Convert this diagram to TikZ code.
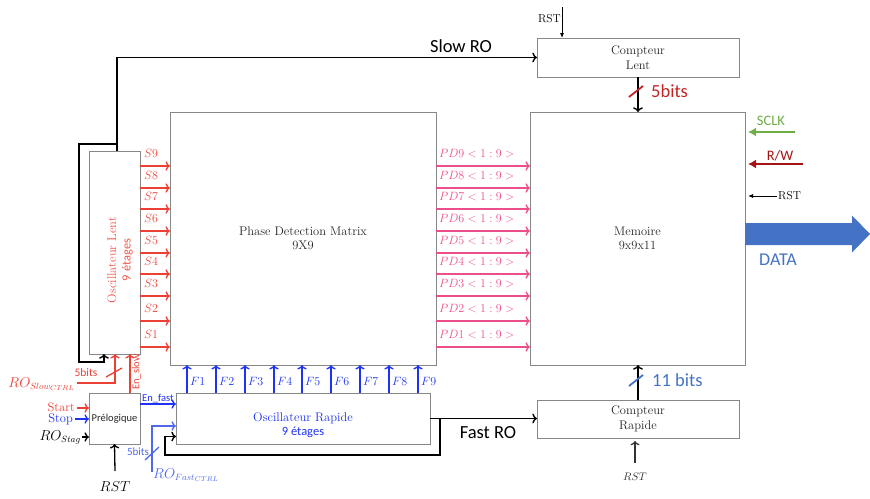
\documentclass[tikz,border=0pt]{standalone}
\usepackage{fontspec}
\newfontfamily\calfont{Carlito}
\usetikzlibrary{arrows.meta,calc}
\definecolor{sred}{RGB}{236,64,52}
\definecolor{ltext}{RGB}{238,88,76}
\definecolor{pdpink}{RGB}{236,78,140}
\definecolor{fblue}{RGB}{30,50,245}
\definecolor{lblue}{RGB}{80,105,235}
\definecolor{cblue}{RGB}{68,114,196}
\definecolor{dred}{RGB}{192,36,36}
\definecolor{rwred}{RGB}{165,20,20}
\definecolor{sgreen}{RGB}{112,173,71}
\definecolor{boxgray}{RGB}{135,135,135}
\begin{document}
\begin{tikzpicture}[x=1pt,y=-1pt, font=\fontsize{12.5}{14.5}\selectfont,
  box/.style={draw=boxgray, line width=0.9pt, inner sep=0pt, outer sep=0pt, align=center, text=black!85},
  wire/.style={line width=1.3pt, ->},
  blk/.style={black, line width=1.4pt, ->},
  thinblk/.style={black, line width=0.8pt, -{Latex[length=5pt,width=4pt]}},
  sans/.style={font=\calfont\fontsize{#1}{#1}\selectfont},
  sans/.default=18]
\useasboundingbox (0,0) rectangle (870,498);

% boxes
\node[box, minimum width=51pt, minimum height=203pt] (lent) at (114.5,252.5) {};
\node[box, minimum width=266pt, minimum height=253pt] (pdm) at (303,238.5) {Phase Detection Matrix\\9X9};
\node[box, minimum width=215pt, minimum height=253pt] (mem) at (637.5,238.5) {Memoire\\9x9x11};
\node[box, minimum width=202pt, minimum height=39pt] (cl) at (638,57.5) {Compteur\\Lent};
\node[box, minimum width=202pt, minimum height=38pt] (cr) at (638,419) {Compteur\\Rapide};
\node[box, minimum width=254pt, minimum height=51pt] (rap) at (303,418.5) {};
\node[box, minimum width=51pt, minimum height=51pt] (pre) at (114.5,418.5) {\calfont\fontsize{10.5}{12}\selectfont Prélogique};

\node[text=fblue, align=center] (raptxt) at (303,425) {Oscillateur Rapide\\{\calfont\fontsize{12.5}{14}\selectfont 9 étages}};
\node[rotate=90, text=ltext, align=center] (lenttxt) at (120,260) {Oscillateur Lent\\{\calfont\fontsize{12.5}{14}\selectfont 9 étages}};

% S and PD signals
\foreach \y [count=\i] in {347,321,296,274,253,231,209,188,166} {
  \draw[sred, wire] (lent.east |- 0,\y) -- (pdm.west |- 0,\y);
  \node[text=sred, anchor=base west, inner sep=0pt] (s\i) at ($(lent.east |- 0,\y)+(4,-8.5)$) {$S\i$};
  \draw[pdpink, wire] (pdm.east |- 0,\y) -- (mem.west |- 0,\y);
  \node[text=pdpink, anchor=base west, inner sep=0pt, font=\fontsize{13}{14}\selectfont] (pd\i) at ($(pdm.east |- 0,\y)+(3,-8.5)$) {$PD\i<1:9>$};
}

% F signals
\foreach \x [count=\i] in {187,216,245,274,302,331,360,389,418} {
  \draw[fblue, wire] (rap.north -| \x,0) -- (pdm.south -| \x,0);
  \node[text=fblue, anchor=west, inner sep=0pt] (f\i) at (\x+3,381) {$F\i$};
}

% Slow RO
\coordinate (lt) at ($(lent.north)+(2.5,0)$);
\draw[blk] (lt) |- (cl.west);
\node[sans=18.5, anchor=base] (slowro) at (461,52) {Slow RO};
\draw[blk] (lt |- 0,144) -- (79,144) -- (79,362) -| ($(lent.south west)+(15,0)$);

% Fast RO
\coordinate (rt) at ($(rap.east)+(10,0)$);
\draw[blk] (rap.east) -- (rap.east -| cr.west);
\draw[blk] (rt) -- ++(0,36.5) -| ($(rap.west)+(-11,18)$) -- ($(rap.west)+(0,18)$);
\node[sans=18.5, anchor=base] (fastro) at (488,438) {Fast RO};

% counters to memory
\draw[blk] (cl.south) -- (cl.south |- mem.north);
\draw[dred, line width=1.8pt] (629,97) -- (643,86);
\node[sans=18.5, text=dred, anchor=base west, inner sep=0pt] (b5) at (651,97) {5bits};
\draw[blk] (cr.north) -- (cr.north |- mem.south);
\draw[cblue, line width=1.8pt] (629,386) -- (643,375);
\node[sans=18.5, text=cblue, anchor=base west, inner sep=0pt] (b11) at (652,386) {11 bits};

% RST of counters
\coordinate (rsttop) at (562,7);
\draw[thinblk] (rsttop) -- (rsttop |- cl.north);
\node[anchor=base east, inner sep=0pt, font=\fontsize{11.5}{12}\selectfont] (rst1) at (561,22) {RST};
\coordinate (rstb) at (635,463);
\draw[black!80, line width=1.2pt, ->] (rstb) -- ($(rstb |- cr.south)+(0,3)$);
\node[text=black!80, font=\fontsize{11}{12}\selectfont] (rst2) at (635,477) {$RST$};

% memory inputs
\coordinate (sclk) at (795,132);
\draw[sgreen, line width=2.6pt, -{Latex[length=8pt,width=9pt]}] (sclk) -- ($(mem.east |- sclk)+(3,0)$);
\node[sans=14.5, text=sgreen] (sclkl) at (771,121) {SCLK};
\coordinate (rw) at (803,164);
\draw[rwred, line width=2.6pt, -{Latex[length=8pt,width=9pt]}] (rw) -- ($(mem.east |- rw)+(3,0)$);
\node[sans=14.5, text=rwred] (rwl) at (780,156) {R/W};
\coordinate (rst3) at (777,196);
\draw[thinblk] (rst3) -- ($(mem.east |- rst3)+(3,0)$);
\node[anchor=west, inner sep=0pt, font=\fontsize{11.5}{12}\selectfont] (rst3l) at (778,196) {RST};

% DATA
\fill[cblue] (mem.east |- 0,223) -- (852,223) -- (852,215.5) -- (870,234) -- (852,252.5) -- (852,245) -- (mem.east |- 0,245) -- cycle;
\node[sans=18, text=cblue, anchor=base] (data) at (778,265) {DATA};

% Prelogique inputs
\node[text=sred, anchor=base east, inner sep=0pt, font=\fontsize{12.5}{14}\selectfont] (start) at (75,411) {Start};
\draw[sred, wire] (77,408) -- (pre.west |- 0,408);
\node[text=fblue, anchor=base east, inner sep=0pt, font=\fontsize{12.5}{14}\selectfont] (stop) at (73,422.5) {Stop};
\draw[fblue, wire] (75,419) -- (pre.west |- 0,419);
\node[anchor=base east, inner sep=0pt, font=\fontsize{13.5}{14}\selectfont] (rostag) at (81,440) {$RO_{Stag}$};
\draw[black, line width=1.3pt, ->] (82,437) -- (pre.west |- 0,437);
\coordinate (rstp) at (115,471);
\draw[black, line width=1.3pt, ->] (rstp) -- (pre.south);
\node[font=\fontsize{13.5}{14}\selectfont] (rstpl) at (115,487) {$RST$};

% slow control
\node[text=sred, anchor=base east, inner sep=0pt, font=\fontsize{13.5}{14}\selectfont] (roslow) at (75,387) {$RO_{Slow_{CTRL}}$};
\coordinate (rsl) at (77,383);
\draw[sred, wire] (rsl) -| (lent.south -| 115,0);
\draw[sred, line width=1.3pt] (106,377) -- (122,368);
\node[sans=11.5, text=sred] (b5s) at (86,373) {5bits};
\draw[sred, wire] (pre.north -| 130,0) -- (lent.south -| 130,0);
\node[sans=10.5, text=sred, rotate=90, inner sep=0pt] (enslow) at (136.5,372) {En\_slow};

% fast control
\draw[fblue, wire] (pre.east |- 0,404) -- (rap.west |- 0,404);
\node[sans=10.5, text=fblue, anchor=south west, inner sep=0pt] (enfast) at (142,403) {En\_fast};
\coordinate (rfs) at (152,472);
\draw[lblue, wire] (rfs) |- (rap.west |- 0,426);
\draw[lblue, line width=1.3pt] (145,460) -- (159,447);
\node[sans=11, text=lblue] (b5f) at (138,452) {5bits};
\node[text=lblue, anchor=west, inner sep=0pt, font=\fontsize{13.5}{14}\selectfont] (rofast) at (153,475) {$RO_{Fast_{CTRL}}$};
\end{tikzpicture}
\end{document}
